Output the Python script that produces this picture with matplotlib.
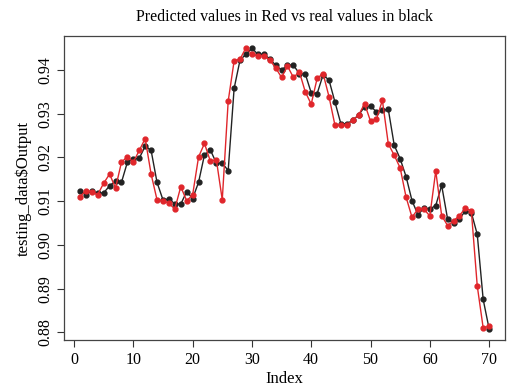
import numpy as np
import matplotlib
matplotlib.use('Agg')
import matplotlib.pyplot as plt

plt.rc('font', family=['Liberation Serif', 'DejaVu Serif'])

# real values (black)
real = [0.9124, 0.9115, 0.9123, 0.9118, 0.9119, 0.9135, 0.9146, 0.9143, 0.9189, 0.9197,
        0.9198, 0.9226, 0.9216, 0.9143, 0.9103, 0.9105, 0.9094, 0.9093, 0.9122, 0.9106,
        0.9143, 0.9206, 0.9217, 0.9187, 0.9187, 0.9170, 0.9358, 0.9423, 0.9436, 0.9450,
        0.9436, 0.9436, 0.9426, 0.9411, 0.9400, 0.9411, 0.9411, 0.9392, 0.9391, 0.9348,
        0.9346, 0.9389, 0.9377, 0.9327, 0.9277, 0.9277, 0.9285, 0.9297, 0.9316, 0.9318,
        0.9304, 0.9308, 0.9310, 0.9228, 0.9197, 0.9156, 0.9101, 0.9069, 0.9084, 0.9082,
        0.9090, 0.9136, 0.9059, 0.9051, 0.9059, 0.9078, 0.9074, 0.9024, 0.8875, 0.8808]

# predicted values (red)
pred = [0.9110, 0.9124, 0.9122, 0.9115, 0.9141, 0.9162, 0.9130, 0.9189, 0.9202, 0.9189,
        0.9216, 0.9243, 0.9162, 0.9103, 0.9101, 0.9095, 0.9082, 0.9133, 0.9101, 0.9114,
        0.9201, 0.9232, 0.9191, 0.9195, 0.9103, 0.9329, 0.9421, 0.9425, 0.9451, 0.9436,
        0.9433, 0.9433, 0.9423, 0.9405, 0.9383, 0.9409, 0.9383, 0.9396, 0.9350, 0.9322,
        0.9381, 0.9392, 0.9339, 0.9274, 0.9274, 0.9274, 0.9285, 0.9297, 0.9323, 0.9283,
        0.9287, 0.9331, 0.9231, 0.9205, 0.9176, 0.9109, 0.9063, 0.9082, 0.9082, 0.9066,
        0.9169, 0.9067, 0.9044, 0.9055, 0.9067, 0.9084, 0.9078, 0.8906, 0.8810, 0.8814]

idx = np.arange(1, len(real) + 1)
xticks = [0, 10, 20, 30, 40, 50, 60, 70]
yticks = [0.88, 0.89, 0.90, 0.91, 0.92, 0.93, 0.94]

fig = plt.figure(figsize=(5.07, 3.87), dpi=100)
ax = fig.add_axes([0.1254, 0.1214, 0.8716, 0.7843])

ax.plot(idx, real, color='#222222', lw=1.0, marker='o', ms=3.5)
ax.plot(idx, pred, color='#e0262b', lw=1.0, marker='o', ms=3.5)

# R style axis ranges (4% padding)
allv = real + pred
lo, hi = min(allv), max(allv)
pad = (hi - lo) * 0.04
ax.set_ylim(lo - pad, hi + pad)
ax.set_xlim(1 - 69 * 0.04, 70 + 69 * 0.04)

ax.set_xticks(xticks)
ax.set_yticks(yticks)
ax.set_yticklabels(['%.2f' % v for v in yticks], rotation=90, va='center')
ax.tick_params(direction='out', length=5, width=0.8, labelsize=11.5, color='#333333')
ax.tick_params(axis='y', pad=2.5)
for s in ax.spines.values():
    s.set_color('#444444')
    s.set_linewidth(0.9)

ax.set_title('Predicted values in Red vs real values in black', fontsize=11.5, pad=11)
ax.set_xlabel('Index', fontsize=12, labelpad=2)
ax.set_ylabel('testing_data$Output', fontsize=12, labelpad=4)

plt.savefig('out.png', dpi=100)
